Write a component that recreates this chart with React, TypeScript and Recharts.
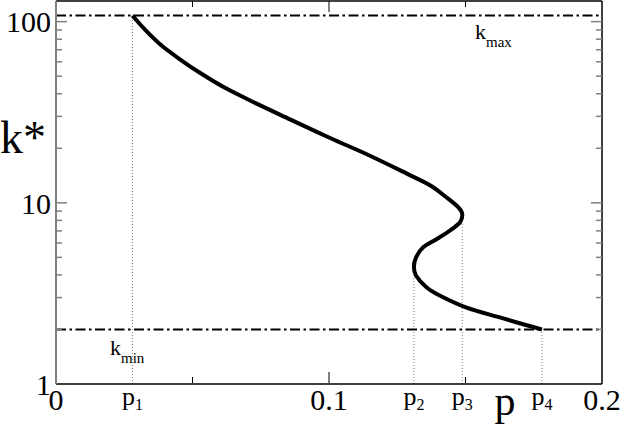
import React from "react";
import { LineChart, Line, XAxis, YAxis, ReferenceLine } from "recharts";

// curve k*(p), read along the S-shaped branch from kmax down to kmin
const curveP = [0.028, 0.0326, 0.0381, 0.0454, 0.0527, 0.0619, 0.0729, 0.0857, 0.1004, 0.115, 0.1285, 0.137, 0.1431, 0.1474, 0.1488, 0.148, 0.1443, 0.1395, 0.1345, 0.1319, 0.1311, 0.1319, 0.1358, 0.1407, 0.1504, 0.1626, 0.1724, 0.178];
const curveK = [108, 90.3, 75.1, 62.0, 52.2, 43.1, 35.6, 28.9, 22.8, 18.2, 14.5, 12.5, 10.7, 9.45, 8.69, 7.81, 7.02, 6.32, 5.68, 5.0, 4.44, 3.96, 3.41, 3.07, 2.64, 2.33, 2.11, 2.0];

const K_MAX = 108;
const K_MIN = 2;

// marked points p1..p4 and the k where the dotted drop line starts
const markP = [0.028, 0.1311, 0.1488, 0.178];
const markK = [108, 4.44, 8.69, 2];
const markSub = ["1", "2", "3", "4"];

const xMajor = [0, 0.1, 0.2];
const xMinor = [0.05, 0.15];
const xLabels = ["0", "0.1", "0.2"];
const yMajor = [1, 10, 100];
const yMinor = [2, 3, 4, 5, 6, 7, 8, 9, 20, 30, 40, 50, 60, 70, 80, 90];
const yLabels = ["1", "10", "100"];

const W = 623;
const H = 428;
const PLOT = { left: 56, right: 602, top: 1, bottom: 383 };
const FONT = "'Liberation Serif', 'DejaVu Serif', serif";
const GREY = "#808080";

const data = curveP.map((p, i) => ({ p, k: curveK[i] }));

// Catmull-Rom curve factory (the S curve turns back in x, so monotone curves won't do)
function catmullRom(context: any) {
  let pts: number[][] = [];
  return {
    areaStart() {},
    areaEnd() {},
    lineStart() {
      pts = [];
    },
    point(x: number, y: number) {
      pts.push([+x, +y]);
    },
    lineEnd() {
      if (!pts.length) return;
      context.moveTo(pts[0][0], pts[0][1]);
      for (let i = 0; i < pts.length - 1; i++) {
        const p0 = pts[i - 1] || pts[i];
        const p1 = pts[i];
        const p2 = pts[i + 1];
        const p3 = pts[i + 2] || p2;
        context.bezierCurveTo(
          p1[0] + (p2[0] - p0[0]) / 6,
          p1[1] + (p2[1] - p0[1]) / 6,
          p2[0] - (p3[0] - p1[0]) / 6,
          p2[1] - (p3[1] - p1[1]) / 6,
          p2[0],
          p2[1]
        );
      }
    },
  };
}

function XTick(props: any) {
  const { x, payload } = props;
  const v = payload.value as number;
  const mi = markP.indexOf(v);
  if (mi >= 0) {
    return (
      <text x={x} y={PLOT.bottom + 22} fontFamily={FONT} fontSize={26} textAnchor="middle" fill="#000">
        p<tspan fontSize={16} dy={5}>{markSub[mi]}</tspan>
      </text>
    );
  }
  const major = xMajor.indexOf(v);
  const len = major >= 0 ? 11 : 6;
  const inner = v > 0 && v < 0.2;
  return (
    <g>
      {inner && <line x1={x} x2={x} y1={PLOT.bottom} y2={PLOT.bottom - len} stroke="#000" strokeWidth={1} />}
      {inner && <line x1={x} x2={x} y1={PLOT.top} y2={PLOT.top + len} stroke="#000" strokeWidth={1} />}
      {major >= 0 && (
        <text x={x} y={PLOT.bottom + 27} fontFamily={FONT} fontSize={30} textAnchor="middle" fill="#000">
          {xLabels[major]}
        </text>
      )}
    </g>
  );
}

function YTick(props: any) {
  const { y, payload } = props;
  const v = payload.value as number;
  const major = yMajor.indexOf(v);
  const len = major >= 0 ? 11 : 6;
  const inner = v > 1;
  return (
    <g>
      {inner && <line x1={PLOT.left} x2={PLOT.left + len} y1={y} y2={y} stroke={GREY} strokeWidth={1.5} />}
      {inner && <line x1={PLOT.right - len} x2={PLOT.right} y1={y} y2={y} stroke={GREY} strokeWidth={1.5} />}
      {major >= 0 && (
        <text x={PLOT.left - 5} y={y} dy="0.36em" fontFamily={FONT} fontSize={30} textAnchor="end" fill="#000">
          {yLabels[major]}
        </text>
      )}
    </g>
  );
}

const PTitle = () => (
  <text x={505} y={415} fontFamily={FONT} fontSize={42} textAnchor="middle" fill="#000">p</text>
);
const KTitle = () => (
  <text x={0} y={153} fontFamily={FONT} fontSize={46} fill="#000">k*</text>
);

const limitLabel = (sub: string, dx: number, dy: number) => (props: any) => {
  const vb = props.viewBox || { x: 0, y: 0 };
  return (
    <text x={vb.x + dx} y={vb.y + dy} fontFamily={FONT} fontSize={22} fill="#000">
      k<tspan fontSize={15} dy={8}>{sub}</tspan>
    </text>
  );
};

export default function App() {
  const xTicks = [...xMajor, ...xMinor, ...markP].sort((a, b) => a - b);
  const yTicks = [...yMajor, ...yMinor].sort((a, b) => a - b);
  return (
    <div style={{ position: "fixed", left: 0, top: 0, width: W, height: H, background: "#fff" }}>
      <LineChart width={W} height={H} data={data} margin={{ top: PLOT.top, right: W - PLOT.right, left: 0, bottom: 0 }}>
        <XAxis
          type="number"
          dataKey="p"
          domain={[0, 0.2]}
          ticks={xTicks}
          interval={0}
          tick={<XTick />}
          tickLine={false}
          axisLine={{ stroke: "#000", strokeWidth: 1.5 }}
          height={H - PLOT.bottom - PLOT.top}
          label={<PTitle />}
        />
        <YAxis
          type="number"
          scale="log"
          domain={[1, 130]}
          allowDataOverflow
          ticks={yTicks}
          interval={0}
          tick={<YTick />}
          tickLine={false}
          axisLine={{ stroke: GREY, strokeWidth: 2 }}
          width={PLOT.left}
          label={<KTitle />}
        />
        <ReferenceLine y={130} stroke="#000" strokeWidth={1.5} />
        <ReferenceLine x={0.2} stroke="#000" strokeWidth={1.5} />
        {markP.map((p, i) => (
          <ReferenceLine
            key={i}
            segment={[{ x: p, y: 1 }, { x: p, y: markK[i] }]}
            stroke={GREY}
            strokeWidth={1}
            strokeDasharray="1 2"
          />
        ))}
        <ReferenceLine y={K_MAX} stroke="#000" strokeWidth={2} strokeDasharray="10 3.5 2.5 3.5" label={limitLabel("max", 419, 23)} />
        <ReferenceLine y={K_MIN} stroke="#000" strokeWidth={2} strokeDasharray="10 3.5 2.5 3.5" label={limitLabel("min", 54, 26)} />
        <Line
          type={catmullRom as any}
          dataKey="k"
          stroke="#000"
          strokeWidth={4}
          dot={false}
          isAnimationActive={false}
        />
      </LineChart>
    </div>
  );
}
